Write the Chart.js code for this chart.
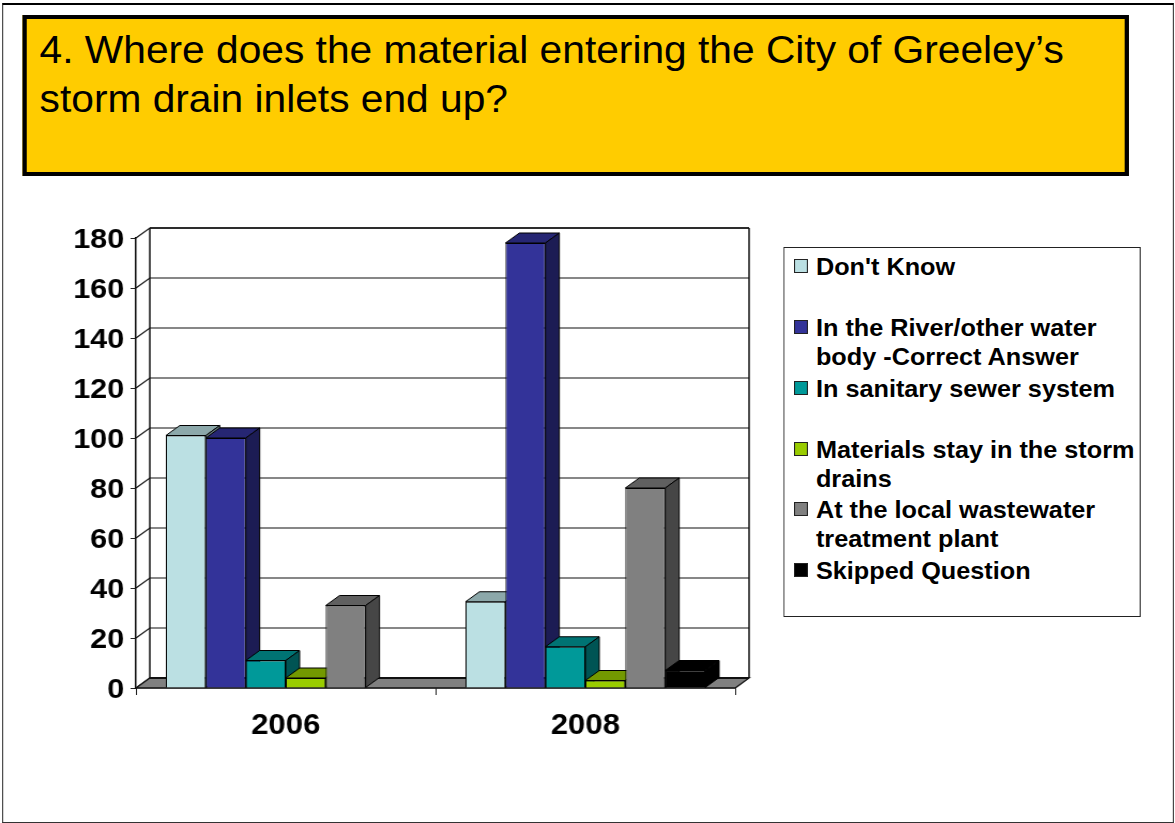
<!DOCTYPE html>
<html>
<head>
<meta charset="utf-8">
<script src="https://cdn.jsdelivr.net/npm/chart.js@4"></script>
<style>
  html, body { margin: 0; padding: 0; background: #fff; overflow: hidden; }
  /* the slide is 4:3 and was stretched to fill the window */
  #slide { position: absolute; left: 0; top: 0; width: 1098px; height: 823px; transform: scaleX(1.0701); transform-origin: 0 0; font-family: "Liberation Sans", Arial, sans-serif; }
  #frame { position: absolute; left: 2px; top: 3px; width: 1093px; height: 817px; border: 1.5px solid #333; border-top: 2px solid #000; }
  #titulo { position: absolute; left: 21px; top: 15px; width: 1026px; height: 153px; background: #ffcc00; border: 4px solid #000; }
  #titulo div { position: absolute; left: 12px; top: 6px; font-size: 39.5px; line-height: 49px; white-space: nowrap; color: #000; transform: scaleX(0.963); transform-origin: 0 0; }
  canvas { position: absolute; left: 0; top: 0; }
  #legenda { position: absolute; left: 732px; top: 247px; width: 332px; height: 368px; background: #fff; border: 1px solid #222; }
  .item { position: absolute; left: 29.5px; font-size: 23.6px; font-weight: bold; line-height: 29.5px; white-space: nowrap; color: #000; }
  .cor { position: absolute; left: -20.5px; top: 6.5px; width: 11px; height: 12px; border: 1px solid #222; }
</style>
</head>
<body>
<div id="slide">
  <div id="frame"></div>
  <div id="titulo"><div>4. Where does the material entering the City of Greeley’s<br>storm drain inlets end up?</div></div>
  <canvas id="grafico" width="1098" height="823"></canvas>
  <div id="legenda"></div>
</div>
<script>
const anos = ["2006", "2008"];
const nomes = ["Don't Know", "In the River/other water body -Correct Answer", "In sanitary sewer system", "Materials stay in the storm drains", "At the local wastewater treatment plant", "Skipped Question"];
const naoSabe = [101, 34.5];
const rio = [100, 178];
const esgoto = [11, 16.5];
const ficam = [4, 3];
const estacao = [33, 80];
const pulou = [0, 7];
const valores = [naoSabe, rio, esgoto, ficam, estacao, pulou];
const cores = ["#bbe0e3", "#333399", "#009999", "#99cc00", "#808080", "#000000"];
const linhasLegenda = [["Don't Know"], ["In the River/other water", "body -Correct Answer"], ["In sanitary sewer system"], ["Materials stay in the storm", "drains"], ["At the local wastewater", "treatment plant"], ["Skipped Question"]];
const topoLegenda = [4.5, 65.5, 126.5, 187.5, 247.5, 308.5];

// depth of the 3D box
const DX = 13;
const DY = 10;

function escurecer(hex, f) {
  const n = parseInt(hex.slice(1), 16);
  const r = Math.round((n >> 16) * f);
  const g = Math.round(((n >> 8) & 255) * f);
  const b = Math.round((n & 255) * f);
  return `rgb(${r},${g},${b})`;
}

function poligono(ctx, pts, fill, stroke, lw) {
  ctx.beginPath();
  pts.forEach((p, i) => (i ? ctx.lineTo(p[0], p[1]) : ctx.moveTo(p[0], p[1])));
  ctx.closePath();
  if (fill) {
    ctx.fillStyle = fill;
    ctx.fill();
  }
  if (stroke) {
    ctx.strokeStyle = stroke;
    ctx.lineWidth = lw || 1;
    ctx.stroke();
  }
}

// back wall, side wall and floor behind the bars
function desenharParedes(chart) {
  const ctx = chart.ctx;
  const y = chart.scales.y;
  const a = chart.chartArea;
  ctx.save();
  ctx.strokeStyle = "#111";
  ctx.lineWidth = 1.2;
  y.ticks.forEach((t) => {
    const py = y.getPixelForValue(t.value);
    ctx.beginPath();
    ctx.moveTo(a.left, py);
    ctx.lineTo(a.left + DX, py - DY);
    ctx.lineTo(a.right + DX, py - DY);
    ctx.stroke();
  });
  ctx.lineWidth = 1.5;
  ctx.beginPath();
  ctx.moveTo(a.left + DX, a.top - DY);
  ctx.lineTo(a.right + DX, a.top - DY);
  ctx.moveTo(a.left + DX, a.top - DY);
  ctx.lineTo(a.left + DX, a.bottom - DY);
  ctx.moveTo(a.right + DX, a.top - DY);
  ctx.lineTo(a.right + DX, a.bottom - DY);
  ctx.stroke();
  poligono(ctx, [[a.left, a.bottom], [a.left + DX, a.bottom - DY], [a.right + DX, a.bottom - DY], [a.right, a.bottom]], "#808080", "#111", 1.3);
  ctx.lineWidth = 2;
  ctx.beginPath();
  ctx.moveTo(a.left + DX, a.bottom - DY);
  ctx.lineTo(a.right + DX, a.bottom - DY);
  ctx.stroke();
  ctx.restore();
}

const caixa3d = {
  id: "caixa3d",
  // chart.js paints the last dataset first, the box needs left to right
  beforeDatasetsDraw(chart) {
    const ctx = chart.ctx;
    desenharParedes(chart);
    nomes.forEach((nome, i) => {
      const meta = chart.getDatasetMeta(i);
      meta.data.forEach((bar) => {
        if (bar.base - bar.y < 0.5) return;
        const esq = bar.x - bar.width / 2;
        const dir = bar.x + bar.width / 2;
        poligono(ctx, [[esq, bar.y], [esq + DX, bar.y - DY], [dir + DX, bar.y - DY], [dir, bar.y]], escurecer(cores[i], 0.75), "#000", 1);
        poligono(ctx, [[dir, bar.y], [dir + DX, bar.y - DY], [dir + DX, bar.base - DY], [dir, bar.base]], escurecer(cores[i], 0.55), "#000", 1);
      });
      meta.controller.draw();
    });
    return false;
  },
};

function montarLegenda() {
  const caixa = document.getElementById("legenda");
  linhasLegenda.forEach((linhas, i) => {
    const item = document.createElement("div");
    item.className = "item";
    item.style.top = topoLegenda[i] + "px";
    item.innerHTML = `<span class="cor" style="background:${cores[i]}"></span>` + linhas.join("<br>");
    caixa.appendChild(item);
  });
}

function montarGrafico() {
  const fonteX = { family: "'Liberation Sans', Arial, sans-serif", size: 29, weight: "bold" };
  const fonteY = { family: "'Liberation Sans', Arial, sans-serif", size: 28.5, weight: "bold" };
  new Chart(document.getElementById("grafico"), {
    type: "bar",
    plugins: [caixa3d],
    data: {
      labels: anos,
      datasets: nomes.map((nome, i) => ({
        label: nome,
        data: valores[i],
        backgroundColor: cores[i],
        borderColor: "#000",
        borderWidth: 1,
        categoryPercentage: 0.8,
        barPercentage: 1,
      })),
    },
    options: {
      responsive: false,
      animation: false,
      devicePixelRatio: 1,
      layout: { padding: { top: 238, right: 411, bottom: 0, left: 0 }, autoPadding: false },
      plugins: { legend: { display: false }, tooltip: { enabled: false }, title: { display: false } },
      scales: {
        x: {
          afterFit: (s) => { s.height = 135; },
          grid: { drawOnChartArea: false, tickLength: 7, color: "#222", lineWidth: 1 },
          border: { color: "#111", width: 1.3 },
          ticks: { color: "#000", font: fonteX, padding: 14, maxRotation: 0 },
        },
        y: {
          min: 0,
          max: 180,
          afterFit: (s) => { s.width = 127; },
          grid: { drawOnChartArea: false, tickLength: 5, color: "#222", lineWidth: 1 },
          border: { color: "#111", width: 1.5 },
          ticks: { color: "#000", font: fonteY, stepSize: 20, padding: 6, autoSkip: false, labelOffset: 2 },
        },
      },
    },
  });
}

window.onload = () => {
  montarLegenda();
  montarGrafico();
};
</script>
</body>
</html>
